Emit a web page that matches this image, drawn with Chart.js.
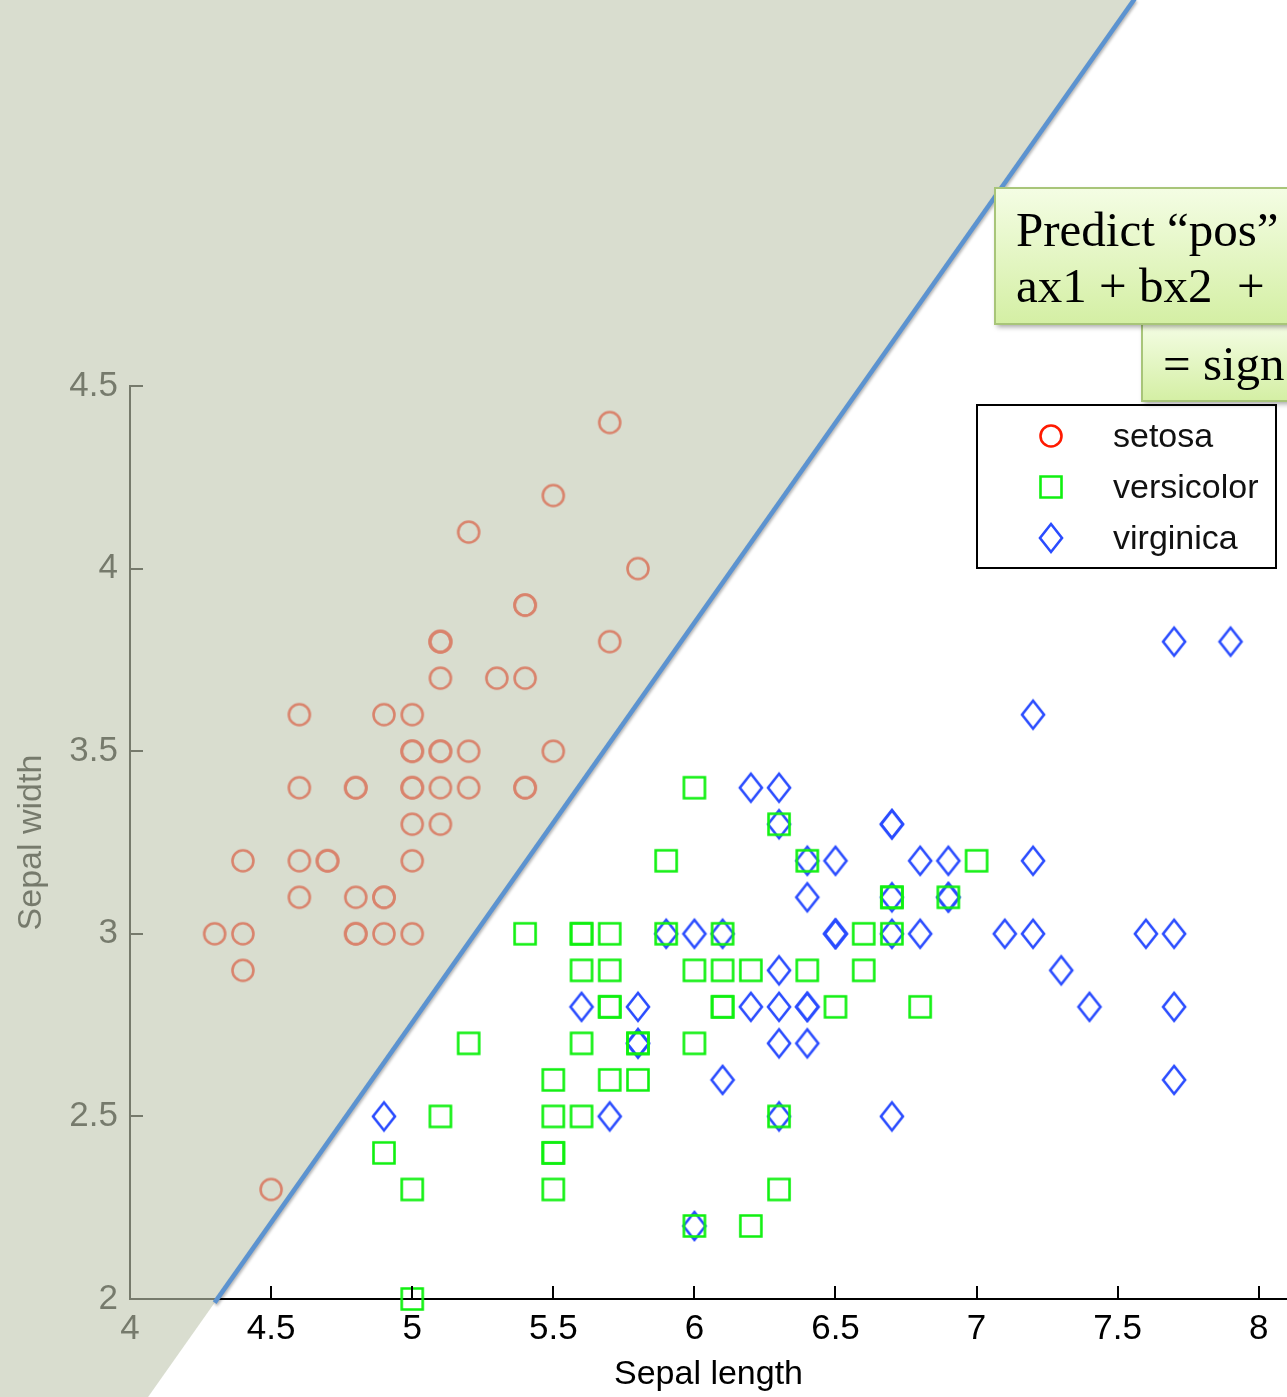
<!DOCTYPE html>
<html>
<head>
<meta charset="utf-8">
<title>Iris sepal scatter</title>
<script src="https://cdn.jsdelivr.net/npm/chart.js@4.4.0/dist/chart.umd.min.js"></script>
<style>
html,body{margin:0;padding:0;background:#fff;overflow:hidden;}
#canvas-holder{position:relative;width:1287px;height:1397px;}
</style>
</head>
<body>
<div id="canvas-holder"><canvas id="chart-area"></canvas></div>
<script>
// sepal length / sepal width (cm), one pair of arrays per species
var setosaLength = [5.1,4.9,4.7,4.6,5.0,5.4,4.6,5.0,4.4,4.9,5.4,4.8,4.8,4.3,5.8,5.7,5.4,5.1,5.7,5.1,5.4,5.1,4.6,5.1,4.8,5.0,5.0,5.2,5.2,4.7,4.8,5.4,5.2,5.5,4.9,5.0,5.5,4.9,4.4,5.1,5.0,4.5,4.4,5.0,5.1,4.8,5.1,4.6,5.3,5.0];
var setosaWidth  = [3.5,3.0,3.2,3.1,3.6,3.9,3.4,3.4,2.9,3.1,3.7,3.4,3.0,3.0,4.0,4.4,3.9,3.5,3.8,3.8,3.4,3.7,3.6,3.3,3.4,3.0,3.4,3.5,3.4,3.2,3.1,3.4,4.1,4.2,3.1,3.2,3.5,3.6,3.0,3.4,3.5,2.3,3.2,3.5,3.8,3.0,3.8,3.2,3.7,3.3];
var versicolorLength = [7.0,6.4,6.9,5.5,6.5,5.7,6.3,4.9,6.6,5.2,5.0,5.9,6.0,6.1,5.6,6.7,5.6,5.8,6.2,5.6,5.9,6.1,6.3,6.1,6.4,6.6,6.8,6.7,6.0,5.7,5.5,5.5,5.8,6.0,5.4,6.0,6.7,6.3,5.6,5.5,5.5,6.1,5.8,5.0,5.6,5.7,5.7,6.2,5.1,5.7];
var versicolorWidth  = [3.2,3.2,3.1,2.3,2.8,2.8,3.3,2.4,2.9,2.7,2.0,3.0,2.2,2.9,2.9,3.1,3.0,2.7,2.2,2.5,3.2,2.8,2.5,2.8,2.9,3.0,2.8,3.0,2.9,2.6,2.4,2.4,2.7,2.7,3.0,3.4,3.1,2.3,3.0,2.5,2.6,3.0,2.6,2.3,2.7,3.0,2.9,2.9,2.5,2.8];
var virginicaLength = [6.3,5.8,7.1,6.3,6.5,7.6,4.9,7.3,6.7,7.2,6.5,6.4,6.8,5.7,5.8,6.4,6.5,7.7,7.7,6.0,6.9,5.6,7.7,6.3,6.7,7.2,6.2,6.1,6.4,7.2,7.4,7.9,6.4,6.3,6.1,7.7,6.3,6.4,6.0,6.9,6.7,6.9,5.8,6.8,6.7,6.7,6.3,6.5,6.2,5.9];
var virginicaWidth  = [3.3,2.7,3.0,2.9,3.0,3.0,2.5,2.9,2.5,3.6,3.2,2.7,3.0,2.5,2.8,3.2,3.0,3.8,2.6,2.2,3.2,2.8,2.8,2.7,3.3,3.2,2.8,3.0,2.8,3.0,2.8,3.8,2.8,2.8,2.6,3.0,3.4,3.1,3.0,3.1,3.1,3.1,2.7,3.2,3.3,3.0,2.5,3.0,3.4,3.0];

var seriesNames = ['setosa','versicolor','virginica'];
var xTicks = [4,4.5,5,5.5,6,6.5,7,7.5,8];
var yTicks = [2,2.5,3,3.5,4,4.5];
// two points of the separating line (data units)
var boundaryX = [4.3, 7.56];
var boundaryY = [1.99, 5.56];
var calloutLines = ['Predict \u201cpos\u201d', 'ax1 + bx2  +', '= sign'];

var FONT = '"Liberation Sans", Arial, sans-serif';

function toPoints(xs, ys){
    var pts = [];
    for(var i = 0; i < xs.length; i++){
        pts.push({x: xs[i], y: ys[i]});
    }
    return pts;
}

//画 MATLAB 风格的标记
function makeMarker(kind, color){
    var c = document.createElement('canvas');
    var w = 28, h = kind == 'diamond' ? 34 : 28;
    c.width = w; c.height = h;
    var g = c.getContext('2d');
    g.strokeStyle = color;
    g.lineWidth = 2.6;
    g.beginPath();
    if(kind == 'circle'){
        g.arc(w/2, h/2, 10.5, 0, Math.PI*2);
    } else if(kind == 'square'){
        g.rect(w/2-10.5, h/2-10.5, 21, 21);
    } else {
        g.moveTo(w/2, h/2-14);
        g.lineTo(w/2+11, h/2);
        g.lineTo(w/2, h/2+14);
        g.lineTo(w/2-11, h/2);
        g.closePath();
    }
    g.stroke();
    return c;
}

var markers = [
    makeMarker('circle', '#ff1a00'),
    makeMarker('square', '#10f010'),
    makeMarker('diamond', '#2a4cff')
];

function callout(ctx, x, y, w, h, lines, baselines, textX){
    ctx.save();
    ctx.shadowColor = 'rgba(0,0,0,0.35)';
    ctx.shadowBlur = 5;
    ctx.shadowOffsetX = 2;
    ctx.shadowOffsetY = 3;
    var grad = ctx.createLinearGradient(0, y, 0, y+h);
    grad.addColorStop(0, '#f4fde4');
    grad.addColorStop(1, '#d4efa4');
    ctx.fillStyle = grad;
    ctx.fillRect(x, y, w, h);
    ctx.shadowColor = 'transparent';
    ctx.strokeStyle = '#a8c579';
    ctx.lineWidth = 2;
    ctx.strokeRect(x, y, w, h);
    ctx.fillStyle = '#000';
    ctx.font = '49px "Liberation Serif", "DejaVu Serif", serif';
    ctx.textAlign = 'left';
    ctx.textBaseline = 'alphabetic';
    for(var i = 0; i < lines.length; i++){
        ctx.fillText(lines[i], textX, baselines[i]);
    }
    ctx.restore();
}

var overlayPlugin = {
    id: 'overlay',
    afterDraw: function(chart){
        var ctx = chart.ctx, xs = chart.scales.x, ys = chart.scales.y, area = chart.chartArea;
        var W = chart.width, H = chart.height;
        ctx.save();
        // ticks point inwards like MATLAB
        ctx.strokeStyle = '#000';
        ctx.lineWidth = 2;
        ctx.beginPath();
        xTicks.forEach(function(v){
            var px = Math.round(xs.getPixelForValue(v));
            ctx.moveTo(px, area.bottom);
            ctx.lineTo(px, area.bottom - 13);
        });
        yTicks.forEach(function(v){
            var py = Math.round(ys.getPixelForValue(v));
            ctx.moveTo(area.left, py);
            ctx.lineTo(area.left + 13, py);
        });
        ctx.stroke();

        // shaded half-plane left of the boundary
        var x1 = xs.getPixelForValue(boundaryX[0]), y1 = ys.getPixelForValue(boundaryY[0]);
        var x2 = xs.getPixelForValue(boundaryX[1]), y2 = ys.getPixelForValue(boundaryY[1]);
        var k = (x2 - x1) / (y2 - y1);
        var topX = x1 + k * (0 - y1), botX = x1 + k * (H - y1);
        ctx.fillStyle = 'rgba(193,200,177,0.61)';
        ctx.beginPath();
        ctx.moveTo(0, 0);
        ctx.lineTo(topX, 0);
        ctx.lineTo(botX, H);
        ctx.lineTo(0, H);
        ctx.closePath();
        ctx.fill();

        // boundary line
        ctx.save();
        ctx.shadowColor = 'rgba(0,0,0,0.3)';
        ctx.shadowBlur = 3;
        ctx.shadowOffsetX = 1;
        ctx.shadowOffsetY = 2;
        ctx.strokeStyle = '#5c93d0';
        ctx.lineWidth = 4.5;
        ctx.beginPath();
        ctx.moveTo(x1, y1);
        ctx.lineTo(x2, y2);
        ctx.stroke();
        ctx.restore();

        // legend
        ctx.fillStyle = '#fff';
        ctx.fillRect(977, 405, 299, 163);
        ctx.strokeStyle = '#000';
        ctx.lineWidth = 2;
        ctx.strokeRect(977, 405, 299, 163);
        ctx.font = '34px ' + FONT;
        ctx.fillStyle = '#111';
        ctx.textAlign = 'left';
        ctx.textBaseline = 'middle';
        for(var i = 0; i < seriesNames.length; i++){
            var cy = 436 + i * 51;
            var m = markers[i];
            ctx.drawImage(m, 1051 - m.width/2, cy - m.height/2);
            ctx.fillText(seriesNames[i], 1113, cy + 2);
        }

        // callout boxes
        callout(ctx, 1142, 324, 200, 77, [calloutLines[2]], [380], 1163);
        callout(ctx, 995, 188, 400, 136, [calloutLines[0], calloutLines[1]], [246, 302], 1016);
        ctx.restore();
    }
};

var ctx = document.getElementById('chart-area').getContext('2d');
var config = {
    type: 'scatter',
    data: {
        datasets: [{
            label: seriesNames[0],
            data: toPoints(setosaLength, setosaWidth),
            pointStyle: markers[0]
        },{
            label: seriesNames[1],
            data: toPoints(versicolorLength, versicolorWidth),
            pointStyle: markers[1]
        },{
            label: seriesNames[2],
            data: toPoints(virginicaLength, virginicaWidth),
            pointStyle: markers[2]
        }]
    },
    options: {
        responsive: true,
        maintainAspectRatio: false,
        animation: false,
        events: [],
        datasets: { scatter: { pointRadius: 12, clip: false } },
        layout: { autoPadding: false, padding: { top: 386, right: 0, bottom: 0, left: 0 } },
        plugins: { legend: { display: false }, tooltip: { enabled: false } },
        scales: {
            x: {
                type: 'linear',
                min: 4,
                max: 8.1,
                afterBuildTicks: function(axis){ axis.ticks = xTicks.map(function(v){ return {value: v}; }); },
                afterFit: function(axis){ axis.height = 98; axis.paddingLeft = 0; axis.paddingRight = 0; },
                grid: { drawOnChartArea: false, drawTicks: false },
                border: { display: true, color: '#000', width: 2 },
                ticks: {
                    color: '#000', padding: 9, autoSkip: false, maxRotation: 0,
                    font: { family: FONT, size: 35 },
                    callback: function(v){ return String(v); }
                },
                title: {
                    display: true, text: 'Sepal length', color: '#000',
                    font: { family: FONT, size: 34, lineHeight: 1 },
                    padding: { top: 0, bottom: 5 }
                }
            },
            y: {
                type: 'linear',
                min: 2,
                max: 4.5,
                afterBuildTicks: function(axis){ axis.ticks = yTicks.map(function(v){ return {value: v}; }); },
                afterFit: function(axis){ axis.width = 130; axis.paddingTop = 0; axis.paddingBottom = 0; },
                grid: { drawOnChartArea: false, drawTicks: false },
                border: { display: true, color: '#000', width: 2 },
                ticks: {
                    color: '#000', padding: 12, autoSkip: false,
                    font: { family: FONT, size: 35 },
                    callback: function(v){ return String(v); }
                },
                title: {
                    display: true, text: 'Sepal width', color: '#000',
                    font: { family: FONT, size: 34, lineHeight: 1 },
                    padding: { top: 15, bottom: 0 }
                }
            }
        }
    },
    plugins: [overlayPlugin]
};
var myChart = new Chart(ctx, config);
</script>
</body>
</html>
